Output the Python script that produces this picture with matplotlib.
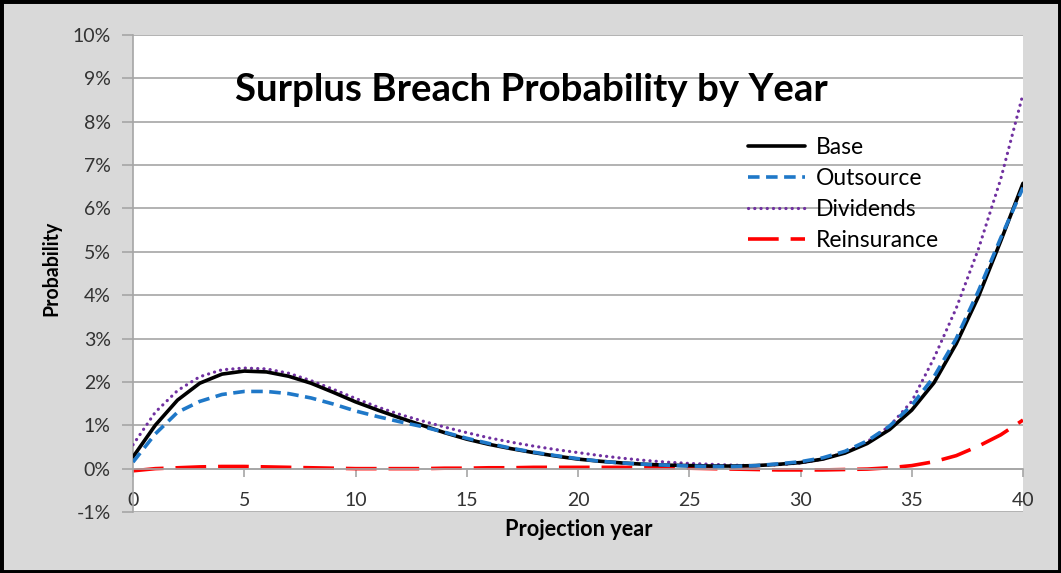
import matplotlib
matplotlib.use('Agg')
import matplotlib.pyplot as plt
from matplotlib.patches import Rectangle
from matplotlib.ticker import FuncFormatter

# ---------------- data (percent) ----------------
years = list(range(41))
base = [0.27, 1.0, 1.58, 1.97, 2.18, 2.25, 2.23, 2.13, 1.97, 1.76,
        1.54, 1.35, 1.17, 1.0, 0.83, 0.68, 0.56, 0.46, 0.37, 0.29,
        0.22, 0.17, 0.13, 0.10, 0.08, 0.07, 0.06, 0.06, 0.07, 0.10,
        0.14, 0.22, 0.36, 0.58, 0.90, 1.35, 1.98, 2.88, 3.97, 5.25, 6.58]
outsource = [0.15, 0.80, 1.30, 1.55, 1.71, 1.78, 1.78, 1.73, 1.63, 1.49,
             1.33, 1.20, 1.08, 0.97, 0.84, 0.70, 0.58, 0.47, 0.38, 0.30,
             0.23, 0.17, 0.13, 0.10, 0.08, 0.06, 0.05, 0.05, 0.07, 0.11,
             0.16, 0.25, 0.40, 0.64, 0.98, 1.46, 2.12, 3.00, 4.10, 5.32, 6.48]
dividends = [0.55, 1.30, 1.80, 2.12, 2.28, 2.32, 2.30, 2.20, 2.03, 1.83,
             1.62, 1.42, 1.25, 1.10, 0.96, 0.83, 0.71, 0.61, 0.52, 0.44,
             0.37, 0.30, 0.24, 0.19, 0.15, 0.12, 0.10, 0.08, 0.07, 0.09,
             0.13, 0.22, 0.37, 0.62, 0.98, 1.55, 2.55, 3.70, 5.07, 6.68, 8.64]
reinsurance = [-0.05, 0.0, 0.02, 0.04, 0.05, 0.05, 0.04, 0.03, 0.02, 0.01,
               0.0, 0.0, 0.0, 0.0, 0.01, 0.01, 0.02, 0.02, 0.03, 0.03,
               0.03, 0.03, 0.03, 0.02, 0.02, 0.01, 0.0, -0.01, -0.02, -0.03,
               -0.03, -0.03, -0.02, -0.01, 0.02, 0.07, 0.16, 0.30, 0.52, 0.78, 1.12]
series_names = ['Base', 'Outsource', 'Dividends', 'Reinsurance']
y_ticks = list(range(-1, 11))
x_ticks = list(range(0, 41, 5))
title = 'Surplus Breach Probability by Year'
x_label = 'Projection year'
y_label = 'Probability'

# ---------------- figure ----------------
plt.rcParams['font.family'] = ['Lato', 'DejaVu Sans']
W, H = 1061, 573
fig = plt.figure(figsize=(W / 100, H / 100), dpi=100, facecolor='#d9d9d9')
fig.patches.append(Rectangle((0, 0), 1, 1, transform=fig.transFigure, fill=False,
                             edgecolor='black', linewidth=5, zorder=10))

ax = fig.add_axes([133 / W, 1 - 512 / H, 890 / W, 477 / H])
ax.set_facecolor('white')
ax.set_xlim(0, 40)
ax.set_ylim(-1, 10)
ax.set_yticks(y_ticks)
ax.set_xticks(x_ticks)
ax.yaxis.set_major_formatter(FuncFormatter(lambda v, p: f'{v:.0f}%'))
ax.grid(axis='y', color='#a6a6a6', linewidth=1.2)
ax.set_axisbelow(True)
for s in ['top', 'right']:
    ax.spines[s].set_visible(False)
ax.spines['bottom'].set_position(('data', 0))
for s in ['bottom', 'left']:
    ax.spines[s].set_color('#a6a6a6')
    ax.spines[s].set_linewidth(1.2)
ax.tick_params(axis='y', length=8, width=1.2, color='#a6a6a6', labelsize=14,
               labelcolor='#333333', pad=8)
ax.tick_params(axis='x', length=6, width=1.2, color='#a6a6a6', labelsize=14,
               labelcolor='#333333', pad=11)

lw = 2.6
l1, = ax.plot(years, base, color='black', lw=lw, solid_capstyle='round',
              solid_joinstyle='round', zorder=4)
l2, = ax.plot(years, outsource, color='#1f78c8', lw=lw, dashes=(3.2, 1.8), zorder=5)
l3, = ax.plot(years, dividends, color='#7030a0', lw=2.3, linestyle=(0, (0.05, 1.9)),
              dash_capstyle='round', zorder=3)
l4, = ax.plot(years, reinsurance, color='#ff0000', lw=lw, dashes=(8.5, 3.3), zorder=2)

fs_leg = 16.5
fpx = fs_leg * 100 / 72
leg = ax.legend([l1, l2, l3, l4], series_names, loc='upper left',
                bbox_to_anchor=(748 / W, 1 - 137 / H), bbox_transform=fig.transFigure,
                frameon=False, fontsize=fs_leg, handlelength=57 / fpx,
                handletextpad=11 / fpx, labelspacing=0.43, borderpad=0, borderaxespad=0)
for t in leg.get_texts():
    t.set_color('black')

t_title = fig.text(531 / W, 1 - 101 / H, title, ha='center', va='baseline',
                   fontsize=28, fontweight='bold', color='black')
t_x = fig.text(579 / W, 1 - 530 / H, x_label, ha='center', va='center',
               fontsize=13, fontweight='bold', color='black')
t_y = fig.text(51 / W, 1 - 268 / H, y_label, ha='center', va='center', rotation=90,
               fontsize=13, fontweight='bold', color='black')

fig.canvas.draw()
r = fig.canvas.get_renderer()
for t, target, dim in [(t_title, 591, 'w'), (t_x, 148, 'w'), (t_y, 95, 'h')]:
    bb = t.get_window_extent(r)
    cur = bb.width if dim == 'w' else bb.height
    t.set_fontsize(t.get_fontsize() * target / cur)

fig.savefig('out.png', dpi=100, facecolor=fig.get_facecolor())
